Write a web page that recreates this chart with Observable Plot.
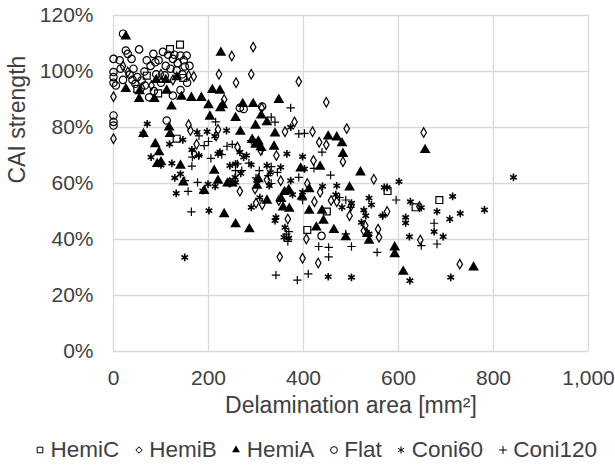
<!DOCTYPE html>
<html><head><meta charset="utf-8">
<script src="https://cdn.jsdelivr.net/npm/d3@7"></script>
<script src="https://cdn.jsdelivr.net/npm/@observablehq/plot@0.6"></script>
<style>
body{margin:0;background:#fff;font-family:"Liberation Sans",Arial,sans-serif;}
#legend{display:flex;justify-content:center;align-items:center;font-size:22.5px;color:#404040;margin-top:12px;height:26px;padding-left:18px;}
#legend .it{display:flex;align-items:center;margin:0 7.75px;}
#legend svg{margin-right:6.5px;}
</style></head><body>
<div id="chart"></div>
<div id="legend"></div>
<script>
const hemiC_x = [50,70,94,119,140,147,133,408,449,577,636,686];
const hemiC_y = [93.8,98.5,92.2,108,109.6,97.7,76,43.4,50,57.3,51.5,54.1];

const hemiB_x = [0,0,30,158,169,294,249,222,290,258,390,448,233,312,381,419,653,491,361,433,448,483,421,343,310,261,216,175,548,408,435,423,458,470,497,576,644,557,559,527,646,406,367,350,398,431,729,348,313,298,266,352,323,245,162,158,170,220,20,60,80,100,125,500,530,300];
const hemiB_y = [76,91,99.8,98.6,98.2,108.7,105.5,99,99,96,96.4,89,90,87,82,78.5,78.2,79.6,78.5,74.7,73.8,67.8,68.2,70,71.8,73,77,74,61.5,60,56.9,53.5,53.9,53.5,48.5,50,51.8,43.7,40.8,43.1,39.8,40.2,47.3,33.8,33.3,31.6,31.2,53.9,52.4,58,57.2,61,61.3,60.4,78.9,81,70.6,79.3,102,94,95,99,97,52,45,53];

const hemiA_x = [26,226,26,54,86,122,143,164,185,200,208,224,225,203,257,272,294,348,311,323,267,299,340,338,292,299,452,470,481,483,656,520,497,435,394,412,369,397,412,439,442,464,427,489,534,538,592,592,610,758,357,353,286,257,233,212,220,305,302,323,191,147,141,88,96,100,92,117,119,63,112,133,110,305,310,230,360,370,240,250,90,55];
const hemiA_y = [112.5,106.7,93.8,90.2,90.2,87.5,91,90.6,90.6,88,93.4,93.2,86.9,83.9,83.4,88.4,88.4,89.9,84.3,81.9,78.5,80.7,77.9,73.2,75.6,73.9,76.8,76.5,74.4,70.6,72,64,58.6,66,65.4,58,57.7,55.3,50.3,50.3,46.7,43.4,44.3,40.8,42,39.6,37.2,34.8,28.5,30,51.5,54.5,43.7,45.5,49.1,64.6,61,61.6,59.2,53.9,57.4,60.4,66.4,74.1,71.2,67.6,67,80,77.7,77.7,93.2,98,97,75,73,88,57,51,60,60,97,93];

const flat_x = [20,0,0,0,0,0,0,26,30,54,38,84,104,88,125,141,154,150,133,108,34,13,59,46,141,125,75,112,266,274,313,438,0,5,15,42,65,78,95,115,120,135,145,160,66,85,100,155,20,50,90,110,148,128,70,40];
const flat_y = [113.5,104.5,99.8,96,84.3,80.7,82,107.5,106.3,107.9,104.5,106.3,107,103.3,104.5,105.7,105.7,101.8,100.4,98.6,98.9,104,96.8,95.6,93.4,91.4,90.8,82.5,87,86.6,87.5,41.3,98,95,101,101,100,102,104,106,101,103,99,102,95,93,96,96,97,98,99,102,104,106,104,97];

const coni60_x = [842,781,714,708,694,710,681,675,625,615,615,623,624,601,570,567,538,543,531,527,501,501,470,452,398,402,377,365,373,373,352,342,361,359,369,398,323,290,274,266,257,245,224,238,213,214,201,199,188,150,132,129,141,123,118,146,71,62,79,100,176,197,220,256,243,257,268,302,308,290,328,340,468,481,538,522,576,648,730,180,165,280,330,440];
const coni60_y = [62.2,50.6,55.4,47.3,41,26.5,50,42.8,53.5,47.9,45.9,41,25.3,60.7,58.6,48.5,54.8,52.4,48.5,50.5,26.5,53,59.2,26.7,69.6,65.2,56,70.6,80.1,61,65.8,47.9,44.3,40.8,40.5,56.9,66.4,66.7,69.4,71.2,67,66.4,71.2,78.9,76.9,59,50.3,59.8,57.4,33.6,56.5,62,63.4,67.2,74.1,75.6,81.3,77.7,69.4,66.6,78.3,78.5,70.6,62.2,60.4,60.4,63.6,61,55,51.5,59.2,46.7,56,51.5,42,46.1,58.6,51.4,49.3,70,72,70,64,59];

const coni120_x = [373,402,439,422,390,332,340,313,332,326,307,332,239,228,257,261,191,179,166,165,150,157,177,164,390,457,476,489,499,453,432,453,410,387,342,367,364,369,489,555,595,675,681,648,566,501,270,290,285,398,180,200,215,250,300,345,205];
const coni120_y = [87,77.9,71.2,65.4,62.2,83.7,81.9,71.8,66,62.8,64.6,60,73.3,70.3,64.6,67,73.5,70,69.4,66.2,61,57.2,60.4,49.9,77.7,63,55,54.1,51.5,37.2,37.5,33.8,27.7,25.5,27.3,39.3,41.9,42.8,42,35.4,54.1,45.8,38.4,37.8,48.5,37.5,64.6,75.3,67.3,54.1,77,75,82,74,62,64,69];

const seriesNames = ["HemiC","HemiB","HemiA","Flat","Coni60","Coni120"];
const xTicks = [0,200,400,600,800,1000];
const yTicks = [0,20,40,60,80,100,120];
const xTitle = "Delamination area [mm²]";
const yTitle = "CAI strength";

const toRows = (xs, ys) => xs.map((x, i) => ({x, y: ys[i]}));
const sets = {
  HemiC: toRows(hemiC_x, hemiC_y),
  HemiB: toRows(hemiB_x, hemiB_y),
  HemiA: toRows(hemiA_x, hemiA_y),
  Flat: toRows(flat_x, flat_y),
  Coni60: toRows(coni60_x, coni60_y),
  Coni120: toRows(coni120_x, coni120_y)
};
const style = {
  HemiC: {symbol: "square", r: 3.9, fill: "none", stroke: "#000", sw: 1.2, d3s: d3.symbolSquare2, lf: "none", ls: 40},
  HemiB: {symbol: "diamond", r: 2.9, fill: "none", stroke: "#000", sw: 1.2, d3s: d3.symbolDiamond2, lf: "none", ls: 26},
  HemiA: {symbol: "triangle", r: 4, fill: "#000", stroke: "none", sw: 0, d3s: d3.symbolTriangle2, lf: "#000", ls: 45},
  Flat: {symbol: "circle", r: 3.7, fill: "none", stroke: "#000", sw: 1.2, d3s: d3.symbolCircle, lf: "none", ls: 36},
  Coni60: {symbol: "asterisk", r: 3.6, fill: "none", stroke: "#000", sw: 1.6, d3s: d3.symbolAsterisk, lf: "none", ls: 36},
  Coni120: {symbol: "plus", r: 2.8, fill: "none", stroke: "#000", sw: 1.2, d3s: d3.symbolPlus, lf: "none", ls: 22}
};

const txt = "#404040";
const marks = [
  Plot.gridY(yTicks, {stroke: "#d9d9d9", strokeOpacity: 1, strokeWidth: 1.3}),
  Plot.gridX(xTicks, {stroke: "#d9d9d9", strokeOpacity: 1, strokeWidth: 1.3}),
  Plot.axisX(xTicks, {tickSize: 0, tickPadding: 19, tickFormat: d3.format(","), fontSize: 21, color: txt, label: null}),
  Plot.axisY(yTicks, {tickSize: 0, tickPadding: 20, tickFormat: d => d + "%", fontSize: 21, color: txt, label: null}),
  Plot.text([xTitle], {frameAnchor: "bottom", lineAnchor: "middle", dy: 54.5, fontSize: 23, fill: txt}),
  Plot.text([yTitle], {frameAnchor: "left", lineAnchor: "middle", rotate: -90, dx: -95.5, fontSize: 23, fill: txt})
];
for (const name of seriesNames) {
  const s = style[name];
  marks.push(Plot.dot(sets[name], {x: "x", y: "y", symbol: () => s.symbol, r: s.r, fill: s.fill, stroke: s.stroke, strokeWidth: s.sw}));
}

const chart = Plot.plot({
  width: 615, height: 425,
  marginLeft: 113, marginRight: 27, marginTop: 15, marginBottom: 74,
  style: {fontFamily: "'Liberation Sans', Arial, sans-serif", fontSize: "21px", color: txt, background: "#fff"},
  x: {domain: [0, 1000]},
  y: {domain: [0, 120]},
  symbol: {type: "identity"},
  marks
});
document.getElementById("chart").appendChild(chart);

const legend = d3.select("#legend");
for (const name of seriesNames) {
  const s = style[name];
  const it = legend.append("div").attr("class", "it");
  const sv = it.append("svg").attr("width", 8).attr("height", 10).attr("viewBox", "-4 -5 8 10").style("overflow", "visible");
  sv.append("path")
    .attr("d", d3.symbol(s.d3s, s.ls)())
    .attr("fill", s.lf).attr("stroke", s.lf === "none" ? "#000" : "none").attr("stroke-width", 1);
  it.append("span").text(name);
}
</script>
</body></html>
